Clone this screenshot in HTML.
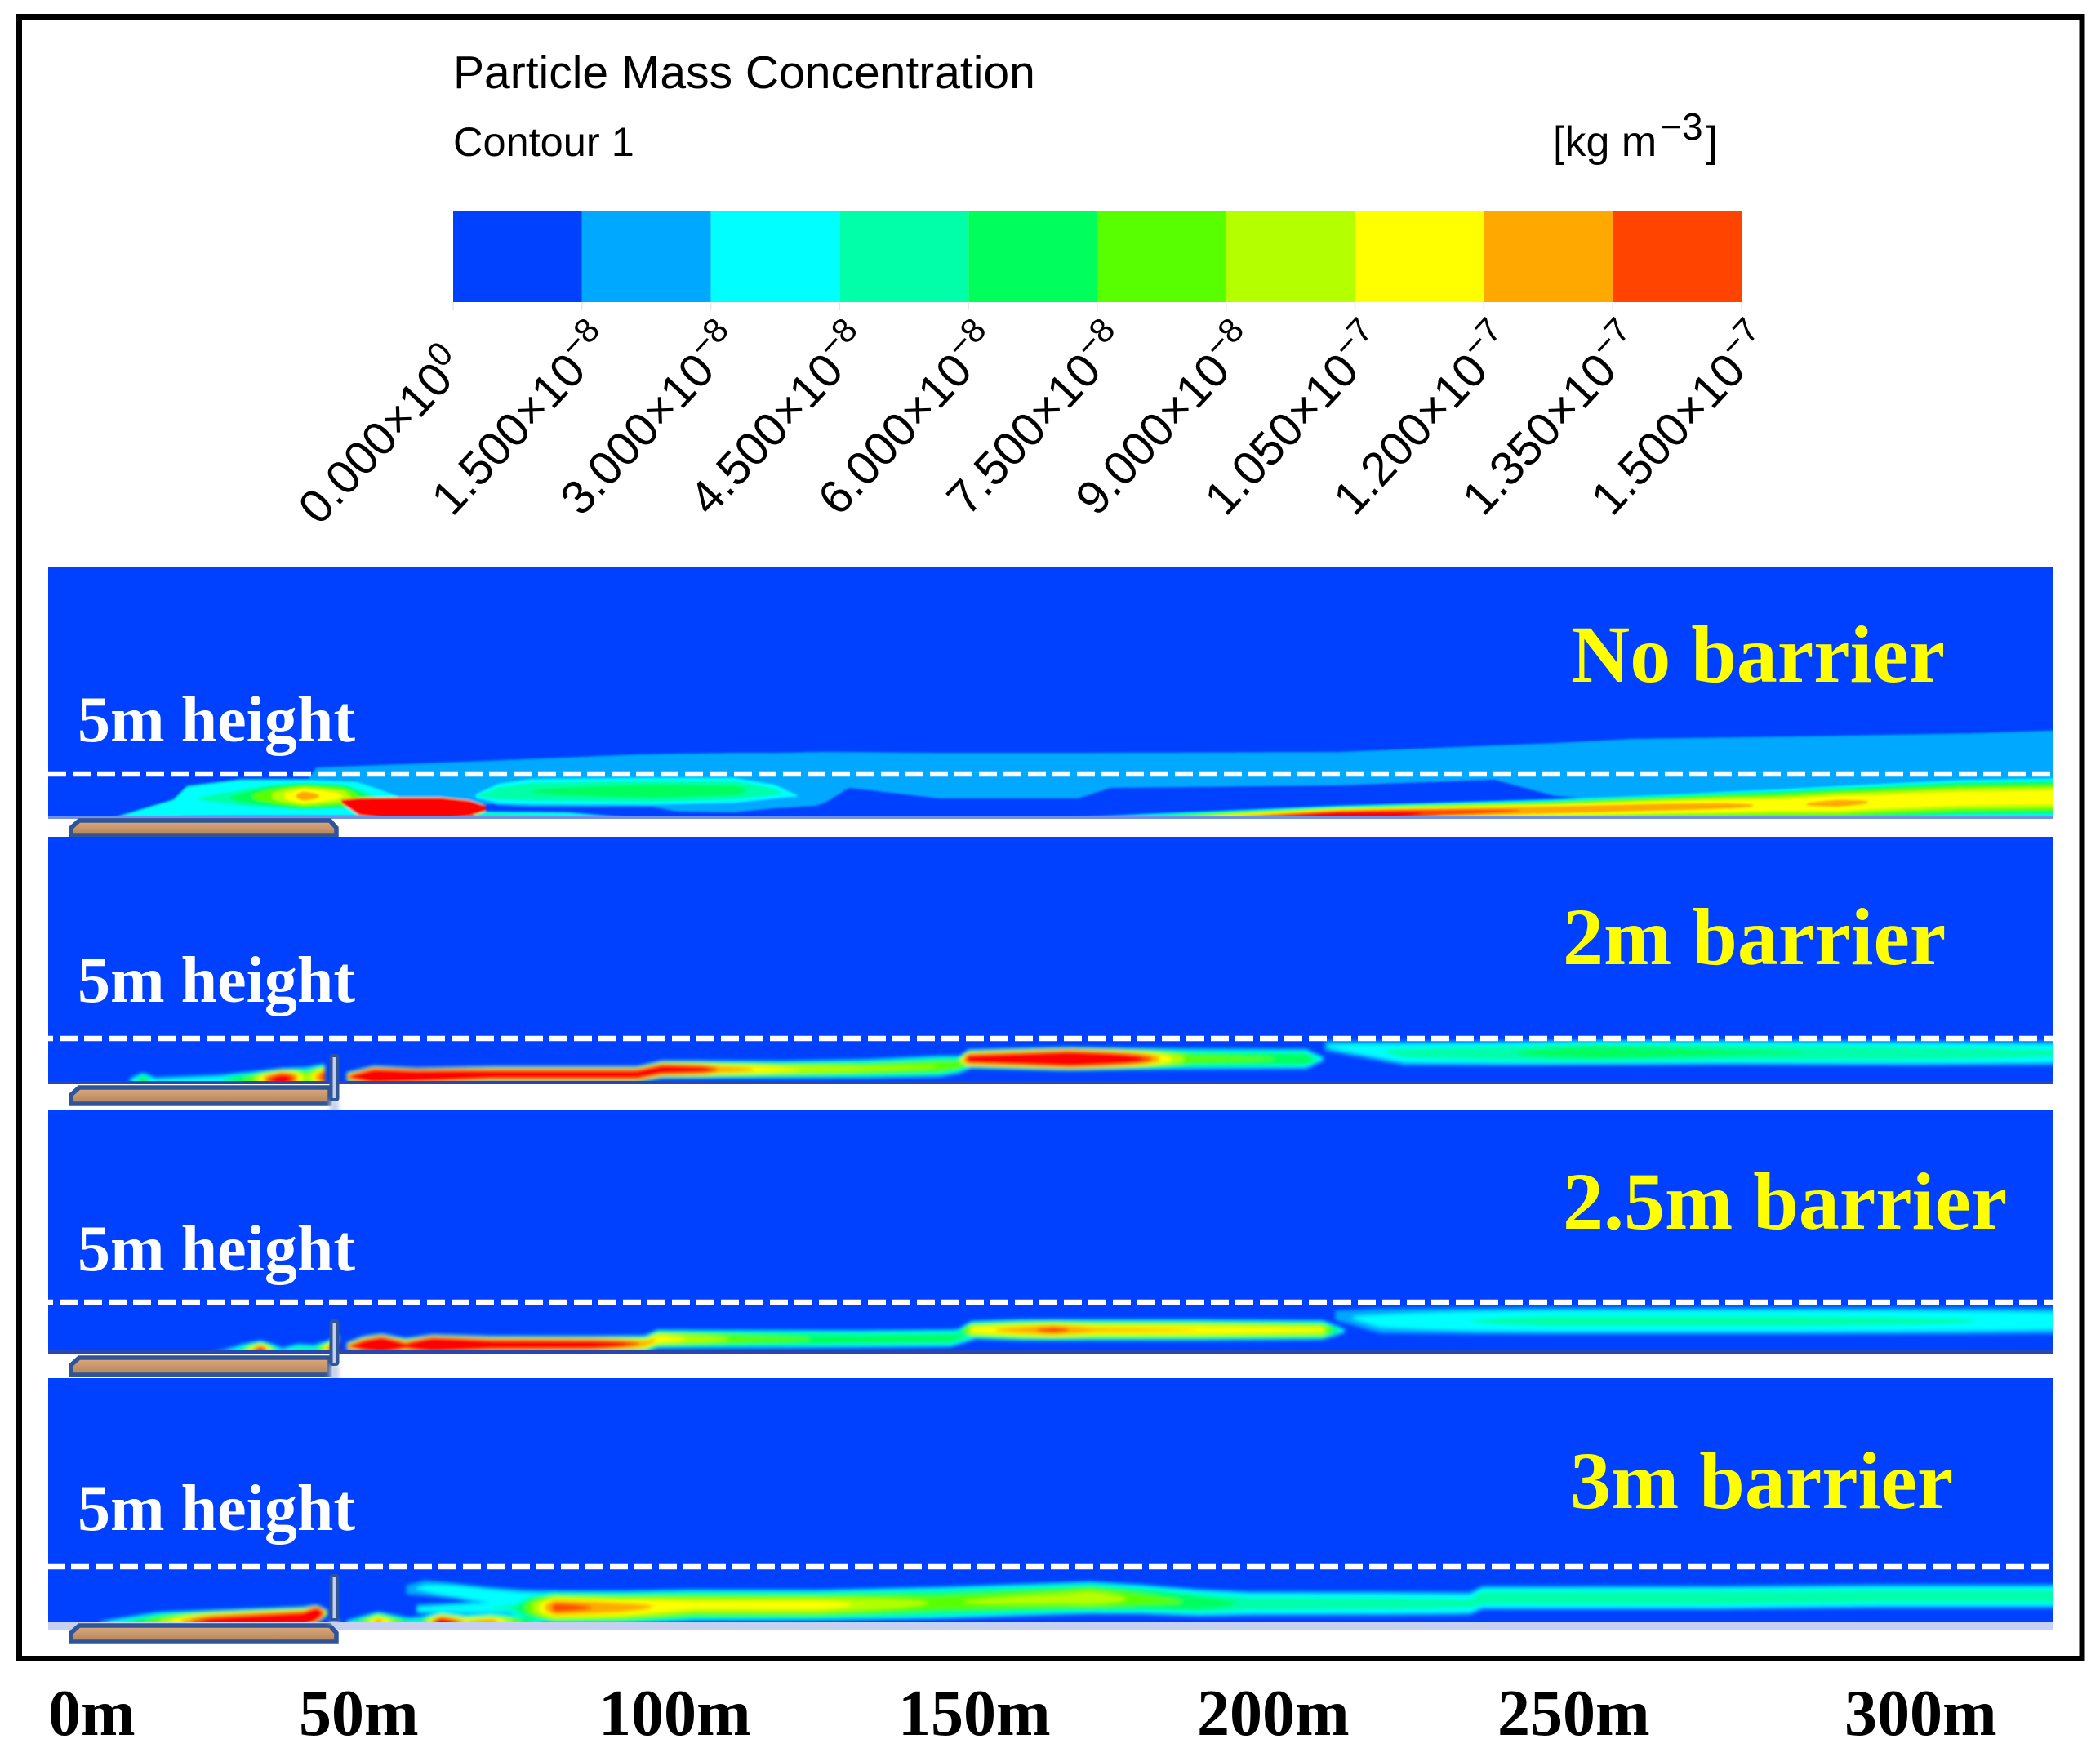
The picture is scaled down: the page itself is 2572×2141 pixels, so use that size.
<!DOCTYPE html>
<html lang="en">
<head>
<meta charset="utf-8">
<title>Particle Mass Concentration contours</title>
<style>
html,body{margin:0;padding:0;background:#fff;width:2572px;height:2141px;overflow:hidden}
svg{display:block}
.sans{font-family:"Liberation Sans",Arial,sans-serif}
.serif{font-family:"Liberation Serif","Times New Roman",serif;font-weight:bold}
</style>
</head>
<body>
<svg id="chart" xmlns="http://www.w3.org/2000/svg" width="2572" height="2141" viewBox="0 0 2572 2141">
  <defs>
    <linearGradient id="roadFill" x1="0" y1="0" x2="0" y2="1">
      <stop offset="0" stop-color="#dcab82"/>
      <stop offset="1" stop-color="#b58256"/>
    </linearGradient>
    <filter id="softEdge" x="-2%" y="-20%" width="104%" height="140%"><feGaussianBlur stdDeviation="2.4"/></filter>
    <filter id="crispEdge" x="-2%" y="-20%" width="104%" height="140%"><feGaussianBlur stdDeviation="1.2"/></filter>
    <filter id="glow" x="-100%" y="-50%" width="300%" height="200%"><feGaussianBlur stdDeviation="3"/></filter>
  </defs>

  <rect x="0" y="0" width="2572" height="2141" fill="#ffffff"/>

  <text class="sans" x="555" y="108" font-size="57" fill="#000">Particle Mass Concentration</text>
  <text class="sans" x="555" y="191" font-size="50.5" fill="#000">Contour 1</text>
  <text class="sans" x="1902" y="191" font-size="52" fill="#000">[kg m<tspan font-size="46" dy="-20" dx="4">−3</tspan><tspan dy="20" dx="4">]</tspan></text>

  <g id="colorbar"></g>
  <g id="panels"></g>

  <rect x="23.5" y="20.5" width="2526.5" height="2011" fill="none" stroke="#000" stroke-width="7"/>

  <text class="serif" x="1924" y="835" font-size="100" fill="#ffff00">No barrier</text>
  <text class="serif" x="1914" y="1181" font-size="100" fill="#ffff00">2m barrier</text>
  <text class="serif" x="1914" y="1505" font-size="100" fill="#ffff00">2.5m barrier</text>
  <text class="serif" x="1923" y="1847" font-size="100" fill="#ffff00">3m barrier</text>

  <text class="serif" x="95" y="908" font-size="80" fill="#ffffff">5m height</text>
  <text class="serif" x="95" y="1227" font-size="80" fill="#ffffff">5m height</text>
  <text class="serif" x="95" y="1556" font-size="80" fill="#ffffff">5m height</text>
  <text class="serif" x="95" y="1874" font-size="80" fill="#ffffff">5m height</text>

  <text class="serif" x="59" y="2125" font-size="80" fill="#000">0m</text>
  <text class="serif" x="366" y="2125" font-size="80" fill="#000">50m</text>
  <text class="serif" x="733" y="2125" font-size="80" fill="#000">100m</text>
  <text class="serif" x="1100" y="2125" font-size="80" fill="#000">150m</text>
  <text class="serif" x="1466" y="2125" font-size="80" fill="#000">200m</text>
  <text class="serif" x="1834" y="2125" font-size="80" fill="#000">250m</text>
  <text class="serif" x="2259" y="2125" font-size="80" fill="#000">300m</text>
</svg>

<script>
// Legend values (x 1e-8 kg m-3), tick text and band colours
const levelValues = [0, 1.5, 3, 4.5, 6, 7.5, 9, 10.5, 12, 13.5, 15];
const tickMantissas = ["0.000", "1.500", "3.000", "4.500", "6.000", "7.500", "9.000", "1.050", "1.200", "1.350", "1.500"];
const tickExponents = ["0", "−8", "−8", "−8", "−8", "−8", "−8", "−7", "−7", "−7", "−7"];
const bandColours = ["#0040ff", "#00a8ff", "#00ffff", "#00ffa8", "#00ff5c", "#58ff00", "#b4ff00", "#ffff00", "#ffa800", "#ff4400"];
const saturatedColour = "#ff0000";

// No barrier: distance (m), plume centre height (m), half thickness (m), peak (x 1e-8 kg m-3)
const a1Dist = [6.9, 17, 19.2, 28, 39.3, 47, 53.9];
const a1Centre = [0, 1.1, 1.9, 2.3, 2.3, 2.2, 1.3];
const a1Half = [0, 1.1, 1.9, 2.3, 2.3, 2.2, 1.3];
const a1Peak = [4.35, 4.35, 4.35, 4.35, 4.35, 4.35, 4.35];

const a2Dist = [20.7, 27.3, 32.7, 38.3, 44.7, 48, 51.3];
const a2Centre = [2.2, 2.3, 2.5, 2.5, 2.5, 2.3, 2];
const a2Half = [0.7, 1.5, 1.8, 1.9, 1.8, 1.3, 0.6];
const a2Peak = [4.5, 6.3, 9, 13, 10.5, 6.8, 3.8];

const a3Dist = [44.4, 47.3, 52.7, 60.7, 65.3, 68];
const a3Centre = [1.9, 1.3, 1.1, 1.1, 1.1, 1.1];
const a3Half = [0.2, 1.05, 1.3, 1.3, 0.95, 0.3];
const a3Peak = [30, 30, 30, 30, 30, 30];

const a4Dist = [66.4, 70, 75.3, 95.3, 108.7, 115.3, 119];
const a4Centre = [2.5, 2.8, 3, 3.05, 3.15, 3, 2.5];
const a4Half = [0.4, 1.6, 2, 2, 1.9, 1.25, 0.15];
const a4Peak = [4.5, 5.5, 6, 7, 6.5, 4.8, 3.8];

const a5Dist = [38.7, 40.3, 67.7, 92.7, 99.3, 108.7, 115.3, 122, 123.7, 127.3, 142, 164.7, 170, 207.3, 232.7, 242.5, 255.3, 282, 310.7, 330];
const a5Centre = [4, 4.26, 4.03, 4.4, 4.03, 4.03, 4.26, 4.44, 4.68, 5.46, 4.81, 4.81, 5.42, 5.6, 6.3, 5.51, 5.42, 5.56, 5.74, 5.97];
const a5Half = [0.2, 1.63, 2.69, 3.1, 3.61, 3.71, 3.45, 3.35, 3.1, 2.23, 2.84, 2.84, 2.19, 2.08, 2.13, 3.3, 3.92, 4.06, 4.26, 4.52];
const a5Peak = [2.85, 2.85, 2.85, 2.85, 2.85, 2.85, 2.85, 2.85, 2.85, 2.85, 2.85, 2.85, 2.85, 2.85, 2.85, 2.85, 2.85, 2.85, 2.85, 2.85];

const a6Dist = [66, 81.3, 92];
const a6Centre = [0, 0, 0];
const a6Half = [0.9, 0.85, 0.1];
const a6Peak = [6.8, 5.5, 2.9];

const a7Dist = [160.5, 175.3, 188.7, 207.3, 224.1, 242, 260.7, 271.3, 279.3, 288.7, 295.3, 308.7, 330];
const a7Centre = [0, 0, 0, 0.1, 0.65, 0.93, 1.25, 1.39, 1.48, 1.67, 1.85, 2.22, 2.41];
const a7Half = [0, 0.56, 0.93, 1.39, 1.2, 1.3, 1.57, 1.85, 2.04, 2.22, 2.3, 2.41, 2.5];
const a7Peak = [2.1, 6, 12, 18, 14.3, 13.2, 12.8, 12.3, 11.7, 12.4, 11.9, 11.8, 11.7];

// 2 m barrier
const b1Dist = [9.7, 12, 14, 24.7, 30, 34.7, 38.7, 42];
const b1Centre = [0.27, 0.36, 0.27, 0.36, 0.45, 0.45, 0.64, 0.73];
const b1Half = [0.43, 0.98, 0.54, 0.77, 0.98, 1.3, 1.3, 1.6];
const b1Peak = [2.3, 7.5, 3.8, 4.5, 9, 19.5, 9, 16.5];

const b2Dist = [45.3, 49.7, 56.7, 68.7, 92.7, 96.7, 103.3, 106, 116.7, 130, 142, 145.3, 148];
const b2Centre = [0.73, 0.82, 0.82, 1, 1, 1.55, 1.55, 1.55, 1.55, 1.64, 1.91, 2.1, 2.4];
const b2Half = [0.55, 1.18, 0.95, 0.95, 0.95, 1.05, 1.05, 1.05, 1.05, 1.15, 1.3, 1.1, 0.6];
const b2Peak = [13.5, 30, 30, 21, 21, 19.5, 16.5, 13.5, 10.8, 9.3, 9, 8.5, 5];

const b3Dist = [144.4, 146.8, 156.7, 163.3, 172.5, 178.4, 183.3, 202, 204.8];
const b3Centre = [2.36, 2.73, 2.73, 2.73, 2.73, 2.73, 2.73, 2.73, 2.73];
const b3Half = [0.27, 1.09, 1.27, 1.36, 1.27, 1.27, 1.27, 1.27, 0.27];
const b3Peak = [4.5, 17.3, 21, 25.5, 18, 12, 8.3, 7.2, 3.8];

const b4Dist = [205, 218, 235.3, 248.7, 271.3, 302, 330];
const b4Centre = [4.18, 3.36, 3.36, 3.45, 3.45, 3.36, 3.36];
const b4Half = [0.8, 1.6, 1.6, 1.6, 1.6, 1.6, 1.6];
const b4Peak = [3, 5, 5.9, 7.2, 6.2, 5.7, 4.5];

// 2.5 m barrier
const c1Dist = [23.6, 27.3, 31.3, 34.7, 37.3, 40, 42.3, 44.1];
const c1Centre = [0, 0, 0, 0.16, 0.24, 0.24, 0.4, 0.56];
const c1Half = [0.3, 0.88, 1.3, 0.5, 0.78, 0.68, 0.88, 1.4];
const c1Peak = [1.6, 4.5, 18, 3, 6, 5.3, 13.5, 18];

const c2Dist = [45.3, 48, 51, 54.9, 59.3, 68.7, 85.2, 94, 96, 100.7, 111, 128.7, 144, 148];
const c2Centre = [0.65, 0.73, 0.81, 0.7, 0.81, 0.81, 0.81, 0.89, 1.37, 1.37, 1.37, 1.37, 1.45, 1.9];
const c2Half = [0.4, 0.97, 1.13, 0.8, 1.05, 0.9, 0.9, 0.9, 1, 1, 1, 1, 1, 0.7];
const c2Peak = [13.5, 21, 30, 16, 30, 21, 19.5, 12.9, 12, 10.5, 8.3, 6.9, 6.8, 5];

const c3Dist = [144.4, 147.3, 155.3, 160.7, 167.3, 184.7, 204.7, 208.4];
const c3Centre = [1.94, 2.26, 2.26, 2.26, 2.26, 2.26, 2.26, 2.18];
const c3Half = [0.24, 0.97, 1.13, 1.13, 1.13, 1.13, 1.05, 0.24];
const c3Peak = [3.8, 11.3, 12.8, 14.4, 12.3, 12, 10.8, 3];

const c4Dist = [206.7, 214, 228.7, 242, 281.7, 308.3, 330];
const c4Centre = [3.7, 3.15, 3.15, 3.15, 3.15, 3.15, 3.15];
const c4Half = [0.7, 1.6, 1.6, 1.6, 1.6, 1.6, 1.6];
const c4Peak = [2.7, 3.5, 4.5, 5, 5, 4.6, 3.9];

// 3 m barrier
const d1Dist = [5, 14.5, 23.3, 38.3, 40.4, 42.3];
const d1Centre = [0, 0, 0.07, 0.29, 0.74, 0.88];
const d1Half = [0.22, 1.03, 1.1, 1.18, 0.88, 0.22];
const d1Peak = [2.3, 9, 16.5, 20, 30, 7.5];

const d2Dist = [45.1, 50.4, 55.3, 57.3, 60.7, 64.7, 68.8, 75.3, 77.7];
const d2Centre = [0, 0, 0, 0, 0, 0, 0, 0, 0];
const d2Half = [0.22, 1.03, 0.51, 0.59, 0.96, 0.74, 0.88, 0.74, 0.15];
const d2Peak = [3, 13.5, 6, 6, 18, 12, 13.5, 6, 2.3];

const d3Dist = [55, 58, 63.3, 68.7, 74, 80];
const d3Centre = [2.94, 3.09, 2.79, 2.35, 2.06, 1.9];
const d3Half = [0.6, 0.96, 0.88, 1.03, 1.1, 1.2];
const d3Peak = [2.8, 3.2, 4.5, 4.5, 4.5, 4.4];

const d4Dist = [56.7, 68.7, 76.7];
const d4Centre = [1.18, 1.32, 1.47];
const d4Half = [0.59, 0.74, 0.74];
const d4Peak = [3.3, 4.5, 5.3];

const d5Dist = [71.6, 75.3, 79.3, 90, 102, 122, 142, 162, 166.7, 175.3, 184.3, 192.7, 215.3, 228.7, 230.7, 268.7, 295.3, 330];
const d5Centre = [1.18, 1.32, 1.32, 1.32, 1.54, 1.54, 1.76, 2.13, 2.21, 2.06, 1.76, 1.69, 1.69, 1.69, 2.21, 2.21, 2.35, 2.35];
const d5Half = [0.44, 1.47, 1.62, 1.62, 1.54, 1.5, 1.6, 1.6, 1.6, 1.5, 1.4, 1.3, 1.3, 1.25, 1.25, 1.25, 1.25, 1.25];
const d5Peak = [4.5, 9, 14.4, 12.8, 11, 11.2, 8.8, 9.8, 10.5, 8.3, 7.2, 5.6, 5.3, 5, 5.7, 5.9, 5.6, 5.6];

const panelNames = ["no-barrier", "2m-barrier", "2-5m-barrier", "3m-barrier"];

const NS = "http://www.w3.org/2000/svg";
const chart = document.getElementById("chart");

// ---- colour bar axis ----
const barLeft = 555, barRight = 2133, barTop = 258, barBottom = 370;
function barScale(v) {
  return barLeft + (v / levelValues[levelValues.length - 1]) * (barRight - barLeft);
}
const colorbar = document.getElementById("colorbar");
bandColours.forEach(function (col, i) {
  const r = document.createElementNS(NS, "rect");
  
  
  r.setAttribute("x", barScale(levelValues[i]));
  r.setAttribute("y", barTop);
  r.setAttribute("width", barScale(levelValues[i + 1]) - barScale(levelValues[i]));
  r.setAttribute("height", barBottom - barTop);
  r.setAttribute("fill", col);
  colorbar.appendChild(r);
});
levelValues.forEach(function (v, i) {
  const x = barScale(v);
  const t = document.createElementNS(NS, "line");
  
  
  t.setAttribute("x1", x);
  t.setAttribute("x2", x);
  t.setAttribute("y1", barBottom);
  t.setAttribute("y2", barBottom + 10);
  t.setAttribute("stroke", "#e6e6e6");
  t.setAttribute("stroke-width", "1.5");
  colorbar.appendChild(t);
  const label = document.createElementNS(NS, "text");
  
  
  label.setAttribute("class", "sans");
  label.setAttribute("text-anchor", "end");
  label.setAttribute("font-size", "58");
  label.setAttribute("fill", "#000");
  const ax = i === 0 ? x + 18 : x + 40;
  const ay = i === 0 ? 450 : 421;
  label.setAttribute("transform", "translate(" + ax + " " + ay + ") rotate(-47)");
  label.appendChild(document.createTextNode(tickMantissas[i] + "×10"));
  const sup = document.createElementNS(NS, "tspan");
  sup.setAttribute("font-size", "42");
  sup.setAttribute("dy", "-22");
  sup.textContent = tickExponents[i];
  label.appendChild(sup);
  colorbar.appendChild(label);
});

// ---- panel axes ----
const xOrigin = 85, pxPerMetre = 7.5;
function xScale(m) { return xOrigin + pxPerMetre * m; }
function yScale(h, groundY, dashY) { return groundY - h * (groundY - dashY) / 5; }

const plumesByPanel = [
  [
    { d: a5Dist, c: a5Centre, w: a5Half, p: a5Peak, n: 8 },
    { d: a1Dist, c: a1Centre, w: a1Half, p: a1Peak, n: 8 },
    { d: a6Dist, c: a6Centre, w: a6Half, p: a6Peak, n: 2 },
    { d: a4Dist, c: a4Centre, w: a4Half, p: a4Peak, n: 2 },
    { d: a2Dist, c: a2Centre, w: a2Half, p: a2Peak, n: 2 },
    { d: a3Dist, c: a3Centre, w: a3Half, p: a3Peak, n: 8 },
    { d: a7Dist, c: a7Centre, w: a7Half, p: a7Peak, n: 2 }
  ],
  [
    { d: b1Dist, c: b1Centre, w: b1Half, p: b1Peak, n: 2 },
    { d: b2Dist, c: b2Centre, w: b2Half, p: b2Peak, n: 2 },
    { d: b3Dist, c: b3Centre, w: b3Half, p: b3Peak, n: 2 },
    { d: b4Dist, c: b4Centre, w: b4Half, p: b4Peak, n: 2 }
  ],
  [
    { d: c1Dist, c: c1Centre, w: c1Half, p: c1Peak, n: 2 },
    { d: c2Dist, c: c2Centre, w: c2Half, p: c2Peak, n: 2 },
    { d: c3Dist, c: c3Centre, w: c3Half, p: c3Peak, n: 2 },
    { d: c4Dist, c: c4Centre, w: c4Half, p: c4Peak, n: 2 }
  ],
  [
    { d: d4Dist, c: d4Centre, w: d4Half, p: d4Peak, n: 2 },
    { d: d3Dist, c: d3Centre, w: d3Half, p: d3Peak, n: 2 },
    { d: d5Dist, c: d5Centre, w: d5Half, p: d5Peak, n: 2 },
    { d: d1Dist, c: d1Centre, w: d1Half, p: d1Peak, n: 2 },
    { d: d2Dist, c: d2Centre, w: d2Half, p: d2Peak, n: 2 }
  ]
];

// Panel geometry in page pixels
const panelTop = [694, 1025, 1359, 1688];
const panelGround = [1002, 1327, 1657, 1987];
const panelDash = [948, 1272, 1595, 1919];
const dashOffset = [0, 16, 16, 2];
const roadTop = [1002, 1329, 1660, 1988];
const roadBottom = [1026, 1355, 1687, 2014];
const barrierTop = [null, 1293, 1618, 1930];
const barrierBottom = [null, 1347, 1671, 1984];
const panelLeft = 59, panelRight = 2514;

function lerp(xs, ys, x) {
  if (x <= xs[0]) return ys[0];
  for (let i = 1; i < xs.length; i++) {
    if (x <= xs[i]) {
      const f = (x - xs[i - 1]) / (xs[i] - xs[i - 1]);
      return ys[i - 1] + f * (ys[i] - ys[i - 1]);
    }
  }
  return ys[ys.length - 1];
}

// One closed outline per run of stations where the plume exceeds the contour value
function bandPaths(plume, threshold, groundY, dashY) {
  const first = plume.d[0], last = plume.d[plume.d.length - 1];
  const runs = [];
  let run = null;
  for (let m = first; m <= last + 0.001; m += 0.4) {
    const peak = lerp(plume.d, plume.p, m);
    if (peak > threshold) {
      const half = lerp(plume.d, plume.w, m) * Math.pow(1 - threshold / peak, 1 / plume.n);
      const centre = lerp(plume.d, plume.c, m);
      if (!run) { run = []; runs.push(run); }
      run.push([xScale(m), yScale(centre + half, groundY, dashY), yScale(centre - half, groundY, dashY)]);
    } else {
      run = null;
    }
  }
  return runs.map(function (r) {
    const upper = r.map(function (q) { return q[0].toFixed(1) + "," + q[1].toFixed(1); });
    const lower = r.slice().reverse().map(function (q) { return q[0].toFixed(1) + "," + q[2].toFixed(1); });
    return "M" + upper.concat(lower).join("L") + "Z";
  });
}

const panelsGroup = document.getElementById("panels");

plumesByPanel.forEach(function (plumes, pi) {
  const group = document.createElementNS(NS, "g");
  
  
  panelsGroup.appendChild(group);

  const top = panelTop[pi], ground = panelGround[pi], dash = panelDash[pi];

  const bg = document.createElementNS(NS, "rect");
  
  
  bg.setAttribute("x", panelLeft);
  bg.setAttribute("y", top);
  bg.setAttribute("width", panelRight - panelLeft);
  bg.setAttribute("height", ground - top);
  bg.setAttribute("fill", bandColours[0]);
  group.appendChild(bg);

  const clip = document.createElementNS(NS, "clipPath");
  clip.setAttribute("id", "panelClip" + pi);
  const clipRect = document.createElementNS(NS, "rect");
  clipRect.setAttribute("x", panelLeft);
  clipRect.setAttribute("y", top);
  clipRect.setAttribute("width", panelRight - panelLeft);
  clipRect.setAttribute("height", ground - top);
  clip.appendChild(clipRect);
  group.appendChild(clip);

  const clipped = document.createElementNS(NS, "g");
  clipped.setAttribute("clip-path", "url(#panelClip" + pi + ")");
  group.appendChild(clipped);
  const bands = document.createElementNS(NS, "g");
  
  
  bands.setAttribute("filter", pi === 0 ? "url(#crispEdge)" : "url(#softEdge)");
  clipped.appendChild(bands);

  for (let k = 1; k < levelValues.length; k++) {
    const colour = k < bandColours.length ? bandColours[k] : saturatedColour;
    plumes.forEach(function (plume) {
      bandPaths(plume, levelValues[k], ground, dash).forEach(function (d) {
        const path = document.createElementNS(NS, "path");
        
        
        path.setAttribute("d", d);
        path.setAttribute("fill", colour);
        bands.appendChild(path);
      });
    });
  }

  // darker floor line and pale fade beneath the domain
  const floor = document.createElementNS(NS, "rect");
  
  
  floor.setAttribute("x", panelLeft);
  floor.setAttribute("y", pi === 3 ? ground : ground - 3);
  floor.setAttribute("width", panelRight - panelLeft);
  floor.setAttribute("height", pi === 3 ? 10 : 4);
  floor.setAttribute("fill", pi === 3 ? "#c6d0f0" : (pi === 0 ? "#6f8fe8" : "#2a46b0"));
  group.appendChild(floor);

  const dashed = document.createElementNS(NS, "line");
  
  
  dashed.setAttribute("x1", panelLeft);
  dashed.setAttribute("x2", panelRight);
  dashed.setAttribute("y1", dash);
  dashed.setAttribute("y2", dash);
  dashed.setAttribute("stroke", "#ffffff");
  dashed.setAttribute("stroke-width", "6.5");
  dashed.setAttribute("stroke-dasharray", "22 8");
  dashed.setAttribute("stroke-dashoffset", dashOffset[pi]);
  group.appendChild(dashed);

  const rt = roadTop[pi], rb = roadBottom[pi];
  const rr = pi === 1 || pi === 2 ? 404 : 412;
  const road = document.createElementNS(NS, "path");
  
  
  road.setAttribute("d", "M87," + (rb - 3) + "L87," + (rt + 12) + "L97," + (rt + 3) +
    (rr === 412 ? "L404," + (rt + 3) + "L412," + (rt + 12) + "L412," + (rb - 3) + "Z"
                : "L" + rr + "," + (rt + 3) + "L" + rr + "," + (rb - 3) + "Z"));
  road.setAttribute("fill", "url(#roadFill)");
  road.setAttribute("stroke", "#2f5597");
  road.setAttribute("stroke-width", "5.5");
  group.appendChild(road);

  if (barrierTop[pi] !== null) {
    const glow = document.createElementNS(NS, "rect");
    
    
    glow.setAttribute("x", 404);
    glow.setAttribute("y", barrierBottom[pi]);
    glow.setAttribute("width", 11);
    glow.setAttribute("height", pi === 3 ? 5 : 20);
    glow.setAttribute("fill", "#c6d0e8");
    glow.setAttribute("filter", "url(#glow)");
    group.appendChild(glow);

    const barrier = document.createElementNS(NS, "rect");
    
    
    barrier.setAttribute("x", 405.5);
    barrier.setAttribute("y", barrierTop[pi]);
    barrier.setAttribute("width", 8);
    barrier.setAttribute("height", barrierBottom[pi] - barrierTop[pi]);
    barrier.setAttribute("rx", 2);
    barrier.setAttribute("fill", "#c3cfea");
    barrier.setAttribute("stroke", "#2f5597");
    barrier.setAttribute("stroke-width", "4");
    group.appendChild(barrier);
  }
});
</script>
</body>
</html>
